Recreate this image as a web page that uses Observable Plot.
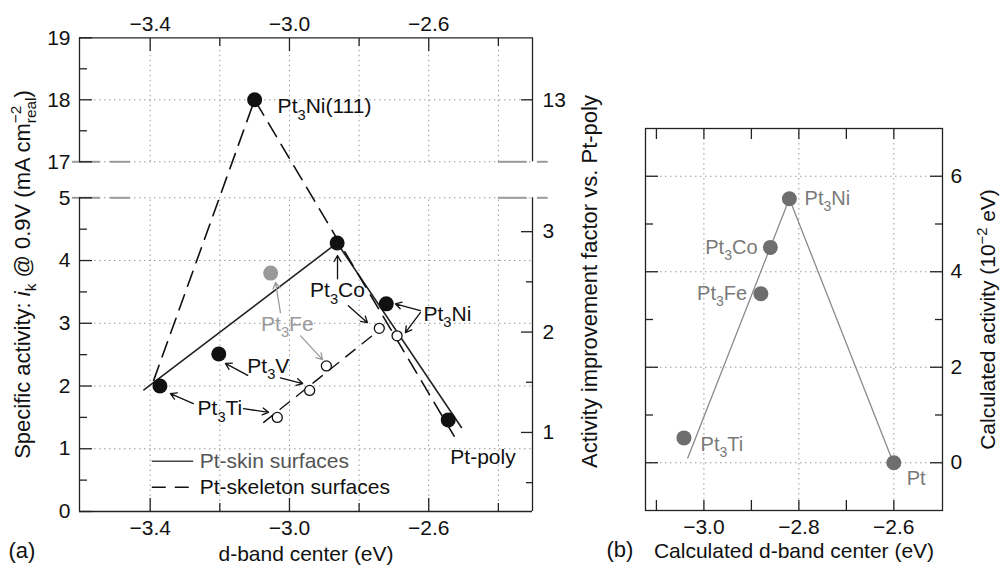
<!DOCTYPE html>
<html><head><meta charset="utf-8">
<script src="https://cdn.jsdelivr.net/npm/d3@7"></script>
<script src="https://cdn.jsdelivr.net/npm/@observablehq/plot@0.6"></script>
<style>
body{margin:0;background:#fff;}
#wrap{position:relative;width:1000px;height:574px;overflow:hidden;background:#fff;}
#wrap svg{position:absolute;top:0;overflow:visible;max-width:none;}
</style></head><body><div id="wrap"></div>
<script>
// ===== Panel (a): measured specific activity vs d-band center =====
const filledNames = ["Pt_{3}Ti", "Pt_{3}V", "Pt_{3}Co", "Pt_{3}Ni", "Pt-poly", "Pt_{3}Ni(111)"];
const filledD = [-3.372, -3.203, -2.863, -2.722, -2.544, -3.100];
const filledAct = [2.00, 2.51, 4.28, 3.31, 1.46, 18.0];
const feD = [-3.054];
const feAct = [3.80];
const openNames = ["Pt_{3}Ti", "Pt_{3}V", "Pt_{3}Fe", "Pt_{3}Co", "Pt_{3}Ni"];
const openD = [-3.035, -2.942, -2.894, -2.742, -2.691];
const openAct = [1.50, 1.93, 2.32, 2.92, 2.80];
// trend lines
const skinLineD = [-3.418, -2.863, -2.506];
const skinLineAct = [1.94, 4.28, 1.34];
const skelLineD = [-3.39, -3.10, -2.527];
const skelLineAct = [2.09, 18.0, 1.20];
const skelLowD = [-3.074, -2.747];
const skelLowAct = [1.42, 2.87];
// axes (a)
const xTicksMajorA = [-3.4, -3.0, -2.6];
const xTicksMinorA = [-3.2, -2.8, -2.4];
const yTicksMajorA = [0, 1, 2, 3, 4, 5, 17, 18, 19];
const yTicksMinorA = [0.5, 1.5, 2.5, 3.5, 4.5, 17.5, 18.5];
const factorMajor = [1, 2, 3, 13];
const factorMinor = [0.5, 1.5, 2.5];
// annotations (a)
const labelTextA = ["Pt_{3}Ni(111)", "Pt_{3}Co", "Pt_{3}Ni", "Pt_{3}Fe", "Pt_{3}V", "Pt_{3}Ti", "Pt-poly"];
const labelDA = [-3.034, -2.862, -2.615, -3.006, -3.121, -3.264, -2.538];
const labelActA = [17.89, 3.52, 3.15, 2.99, 2.32, 1.64, 0.86];
const labelAnchorA = ["start", "middle", "start", "middle", "start", "start", "start"];
const labelColorA = ["#111", "#111", "#111", "#9a9a9a", "#111", "#111", "#111"];
const arrowD1 = [-2.862, -2.831, -2.624, -2.624, -3.026, -2.968, -3.120, -3.026, -3.276, -3.132];
const arrowA1 = [3.71, 3.28, 3.20, 3.17, 3.17, 2.80, 2.17, 2.13, 1.72, 1.64];
const arrowD2 = [-2.862, -2.776, -2.696, -2.667, -3.040, -2.905, -3.184, -2.962, -3.342, -3.060];
const arrowA2 = [4.08, 3.01, 3.31, 2.85, 3.65, 2.42, 2.36, 2.04, 1.88, 1.58];
const arrowColor = ["#111", "#111", "#111", "#111", "#9a9a9a", "#9a9a9a", "#111", "#111", "#111", "#111"];

// ===== Panel (b): calculated activity vs calculated d-band center =====
const bNames = ["Pt_{3}Ti", "Pt_{3}Fe", "Pt_{3}Co", "Pt_{3}Ni", "Pt"];
const bD = [-3.042, -2.880, -2.860, -2.820, -2.600];
const bAct = [0.52, 3.54, 4.51, 5.53, 0.0];
const bLineD = [-3.034, -2.820, -2.605];
const bLineAct = [0.10, 5.53, 0.10];
const bLabelD = [-3.007, -2.909, -2.887, -2.788, -2.573];
const bLabelAct = [0.38, 3.54, 4.51, 5.53, -0.33];
const bLabelAnchor = ["start", "end", "end", "start", "start"];
const xTicksB = [-3.1, -3.0, -2.9, -2.8, -2.7, -2.6];
const xLabelsB = [-3.0, -2.8, -2.6];
const yTicksMajorB = [0, 2, 4, 6];
const yTicksMinorB = [1, 3, 5];

// ---------------------------------------------------------------
const zipXY = (xs, ys, extra = {}) => xs.map((x, i) => {
  const o = {x, y: ys[i]};
  for (const k in extra) o[k] = extra[k][i];
  return o;
});
const fmt1 = d => d.toFixed(1).replace("-", "\u2212");
const FONT = "'Liberation Sans', Arial, Helvetica, sans-serif";
const grid = {stroke: "#9a9a9a", strokeWidth: 1, strokeDasharray: "1.5,3.5"};
const axStroke = "#222";
// secondary (right) axis of panel (a): improvement factor -> activity position
const factorToAct = f => f >= 10 ? 18 + (f - 13) : 1.26 + (f - 1) * 1.60;

const xMinA = -3.603, xMaxA = -2.302;
const breakSegs = [
  {y: 5, x1: -3.623, x2: -3.543}, {y: 5, x1: -3.514, x2: -3.457},
  {y: 17, x1: -3.623, x2: -3.543}, {y: 17, x1: -3.514, x2: -3.457},
  {y: 5, x1: -2.400, x2: -2.317}, {y: 5, x1: -2.288, x2: -2.257},
  {y: 17, x1: -2.400, x2: -2.317}, {y: 17, x1: -2.288, x2: -2.257}
];

const filled = zipXY(filledD, filledAct, {name: filledNames});
const fe = zipXY(feD, feAct);
const open = zipXY(openD, openAct, {name: openNames});
const labelsA = zipXY(labelDA, labelActA, {text: labelTextA, anchor: labelAnchorA, color: labelColorA});
const arrowsA = arrowD1.map((d, i) => ({x1: d, y1: arrowA1[i], x2: arrowD2[i], y2: arrowA2[i], c: arrowColor[i]}));
const textByAnchor = (data, anchor, opts) =>
  Plot.text(data.filter(d => d.anchor === anchor), {x: "x", y: "y", text: "text", textAnchor: anchor, ...opts});

const plotA = Plot.plot({
  width: 600, height: 574,
  marginLeft: 79, marginRight: 68, marginTop: 37, marginBottom: 63,
  style: {fontFamily: FONT, fontSize: "21px", color: "#111", background: "transparent", overflow: "visible"},
  x: {domain: [xMinA, xMaxA], axis: null},
  y: {type: "linear", domain: [0, 5, 17, 19], range: [511, 197.3, 161.3, 37.3], axis: null},
  color: {type: "identity"},
  marks: [
    // grid
    Plot.ruleY([1, 2, 3, 4, 5, 17, 18], grid),
    Plot.ruleX([...xTicksMajorA, ...xTicksMinorA], {...grid, y1: 0, y2: 5}),
    Plot.ruleX([...xTicksMajorA, ...xTicksMinorA], {...grid, y1: 17, y2: 19}),
    // axis break marks
    Plot.ruleY(breakSegs, {y: "y", x1: "x1", x2: "x2", stroke: "#9a9a9a", strokeWidth: 2}),
    // frame
    Plot.ruleY([0, 19], {stroke: axStroke, strokeWidth: 1.3}),
    Plot.ruleX([xMinA, xMaxA], {y1: 0, y2: 5, stroke: axStroke, strokeWidth: 1.3}),
    Plot.ruleX([xMinA, xMaxA], {y1: 17, y2: 19, stroke: axStroke, strokeWidth: 1.3}),
    // inward ticks
    Plot.axisX(xTicksMajorA, {anchor: "bottom", tickSize: -13, fill: "none", label: null, stroke: axStroke, strokeWidth: 1.3}),
    Plot.axisX(xTicksMinorA, {anchor: "bottom", tickSize: -8, fill: "none", label: null, stroke: axStroke, strokeWidth: 1.3}),
    Plot.axisX(xTicksMajorA, {anchor: "top", tickSize: -13, fill: "none", label: null, stroke: axStroke, strokeWidth: 1.3}),
    Plot.axisX(xTicksMinorA, {anchor: "top", tickSize: -8, fill: "none", label: null, stroke: axStroke, strokeWidth: 1.3}),
    Plot.axisY(yTicksMajorA, {anchor: "left", tickSize: -13, fill: "none", label: null, stroke: axStroke, strokeWidth: 1.3}),
    Plot.axisY(yTicksMinorA, {anchor: "left", tickSize: -8, fill: "none", label: null, stroke: axStroke, strokeWidth: 1.3}),
    Plot.axisY(factorMajor.map(factorToAct), {anchor: "right", tickSize: -12, fill: "none", label: null, stroke: axStroke, strokeWidth: 1.3}),
    Plot.axisY(factorMinor.map(factorToAct), {anchor: "right", tickSize: -7, fill: "none", label: null, stroke: axStroke, strokeWidth: 1.3}),
    // tick labels
    Plot.axisX(xTicksMajorA, {anchor: "bottom", tickSize: 0, tickPadding: 9, tickFormat: fmt1, label: null, fontSize: 21}),
    Plot.axisX(xTicksMajorA, {anchor: "top", tickSize: 0, tickPadding: 7, tickFormat: fmt1, label: null, fontSize: 21}),
    Plot.axisY(yTicksMajorA, {anchor: "left", tickSize: 0, tickPadding: 9, tickFormat: d => String(d), label: null, fontSize: 21}),
    Plot.text(factorMajor, {x: xMaxA, y: factorToAct, text: d => String(d), dx: 10, textAnchor: "start", fontSize: 21, fill: "#111"}),
    // trend lines
    Plot.line(zipXY(skinLineD, skinLineAct), {x: "x", y: "y", stroke: "#222", strokeWidth: 1.6}),
    Plot.line(zipXY(skelLineD, skelLineAct), {x: "x", y: "y", stroke: "#111", strokeWidth: 1.6, strokeDasharray: "16,9"}),
    Plot.line(zipXY(skelLowD, skelLowAct), {x: "x", y: "y", stroke: "#111", strokeWidth: 1.4, strokeDasharray: "12,9"}),
    // arrows
    Plot.arrow(arrowsA, {x1: "x1", y1: "y1", x2: "x2", y2: "y2", stroke: "c", strokeWidth: 1.3, headLength: 8}),
    // points
    Plot.dot(open, {x: "x", y: "y", r: 5, fill: "white", stroke: "#111", strokeWidth: 1.3}),
    Plot.dot(fe, {x: "x", y: "y", r: 7.5, fill: "#9a9a9a"}),
    Plot.dot(filled, {x: "x", y: "y", r: 7.5, fill: "#111"}),
    // point labels
    textByAnchor(labelsA, "start", {fill: "color", fontSize: 21}),
    textByAnchor(labelsA, "middle", {fill: "color", fontSize: 21}),
    // legend
    Plot.ruleY([0.80], {x1: -3.394, x2: -3.275, stroke: "#444", strokeWidth: 1.5}),
    Plot.ruleY([0.387], {x1: -3.394, x2: -3.275, stroke: "#111", strokeWidth: 1.6, strokeDasharray: "14,9"}),
    Plot.text(["Pt-skin surfaces"], {x: -3.258, y: 0.80, text: d => d, textAnchor: "start", fill: "#555", fontSize: 21}),
    Plot.text(["Pt-skeleton surfaces"], {x: -3.258, y: 0.387, text: d => d, textAnchor: "start", fill: "#111", fontSize: 21}),
    // axis titles
    Plot.text(["d-band center (eV)"], {frameAnchor: "bottom", dy: 49, text: d => d, textAnchor: "middle", fontSize: 21, fill: "#111"}),
    Plot.text(["(a)"], {frameAnchor: "bottom-left", dx: -71, dy: 46, text: d => d, textAnchor: "start", fontSize: 22, fill: "#111"}),
    Plot.text(["Specific activity: *{i}_{k} @ 0.9V (mA cm^{\u22122}_{real})"], {frameAnchor: "left", dx: -57, rotate: -90, text: d => d, textAnchor: "middle", fontSize: 22, fill: "#111"}),
    Plot.text(["Activity improvement factor vs. Pt-poly"], {frameAnchor: "right", dx: 57, dy: 7, rotate: -90, text: d => d, textAnchor: "middle", fontSize: 22, fill: "#111"})
  ]
});

const bPts = zipXY(bD, bAct, {name: bNames});
const bLabels = zipXY(bLabelD, bLabelAct, {text: bNames, anchor: bLabelAnchor});

const plotB = Plot.plot({
  width: 400, height: 574,
  marginLeft: 45, marginRight: 58, marginTop: 128, marginBottom: 64,
  style: {fontFamily: FONT, fontSize: "21px", color: "#111", background: "transparent", overflow: "visible"},
  x: {domain: [-3.123, -2.4975], axis: null},
  y: {domain: [-1, 7], axis: null},
  marks: [
    Plot.ruleX(xLabelsB, grid),
    Plot.ruleY(yTicksMajorB, grid),
    Plot.frame({stroke: axStroke, strokeWidth: 1.3}),
    Plot.axisX(xTicksB, {anchor: "bottom", tickSize: -10, fill: "none", label: null, stroke: axStroke, strokeWidth: 1.3}),
    Plot.axisX(xTicksB, {anchor: "top", tickSize: -10, fill: "none", label: null, stroke: axStroke, strokeWidth: 1.3}),
    Plot.axisY(yTicksMajorB, {anchor: "left", tickSize: -13, fill: "none", label: null, stroke: axStroke, strokeWidth: 1.3}),
    Plot.axisY(yTicksMinorB, {anchor: "left", tickSize: -8, fill: "none", label: null, stroke: axStroke, strokeWidth: 1.3}),
    Plot.axisY(yTicksMajorB, {anchor: "right", tickSize: -13, fill: "none", label: null, stroke: axStroke, strokeWidth: 1.3}),
    Plot.axisY(yTicksMinorB, {anchor: "right", tickSize: -8, fill: "none", label: null, stroke: axStroke, strokeWidth: 1.3}),
    Plot.axisX(xLabelsB, {anchor: "bottom", tickSize: 0, tickPadding: 9, tickFormat: fmt1, label: null, fontSize: 21}),
    Plot.axisY(yTicksMajorB, {anchor: "right", tickSize: 0, tickPadding: 8, tickFormat: d => String(d), label: null, fontSize: 21}),
    Plot.line(zipXY(bLineD, bLineAct), {x: "x", y: "y", stroke: "#8a8a8a", strokeWidth: 1.3}),
    Plot.dot(bPts, {x: "x", y: "y", r: 7.5, fill: "#6e6e6e"}),
    textByAnchor(bLabels, "start", {fill: "#7a7a7a", fontSize: 20}),
    textByAnchor(bLabels, "end", {fill: "#7a7a7a", fontSize: 20}),
    Plot.text(["Calculated d-band center (eV)"], {frameAnchor: "bottom", dy: 47, text: d => d, textAnchor: "middle", fontSize: 21, fill: "#111"}),
    Plot.text(["(b)"], {frameAnchor: "bottom-left", dx: -39, dy: 46, text: d => d, textAnchor: "start", fontSize: 22, fill: "#111"}),
    Plot.text(["Calculated activity (10^{\u22122} eV)"], {frameAnchor: "right", dx: 46, rotate: -90, text: d => d, textAnchor: "middle", fontSize: 21, fill: "#111"})
  ]
});

const wrap = document.getElementById("wrap");
plotA.style.left = "0px";
plotB.style.left = "600px";
wrap.appendChild(plotA);
wrap.appendChild(plotB);

// turn _{..} ^{..} *{..} markup into subscript / superscript / italic tspans
function richify(svg) {
  const NS = "http://www.w3.org/2000/svg";
  svg.querySelectorAll("text").forEach(t => {
    const s = t.textContent;
    if (!/[_^*]\{/.test(s)) return;
    const base = parseFloat(getComputedStyle(t).fontSize) || 21;
    const re = /([_^*])\{([^}]*)\}/g;
    let last = 0, m; const parts = [];
    while ((m = re.exec(s))) {
      if (m.index > last) parts.push({k: "", s: s.slice(last, m.index)});
      parts.push({k: m[1], s: m[2]});
      last = re.lastIndex;
    }
    if (last < s.length) parts.push({k: "", s: s.slice(last)});
    t.textContent = "";
    let shift = 0, prevKind = "", prevW = 0;
    for (const p of parts) {
      const ts = document.createElementNS(NS, "tspan");
      ts.textContent = p.s;
      let target = 0;
      if (p.k === "_") { target = base * 0.3; ts.setAttribute("font-size", (base * 0.7).toFixed(1)); }
      else if (p.k === "^") { target = -base * 0.38; ts.setAttribute("font-size", (base * 0.7).toFixed(1)); }
      else if (p.k === "*") { ts.setAttribute("font-style", "italic"); }
      if (Math.abs(target - shift) > 1e-6) ts.setAttribute("dy", (target - shift).toFixed(2));
      if (p.k === "_" && prevKind === "^") ts.setAttribute("dx", (-prevW).toFixed(1));
      t.appendChild(ts);
      shift = target;
      prevKind = p.k;
      prevW = p.k === "^" ? ts.getComputedTextLength() : 0;
    }
  });
}
richify(plotA);
richify(plotB);
</script>
</body></html>
